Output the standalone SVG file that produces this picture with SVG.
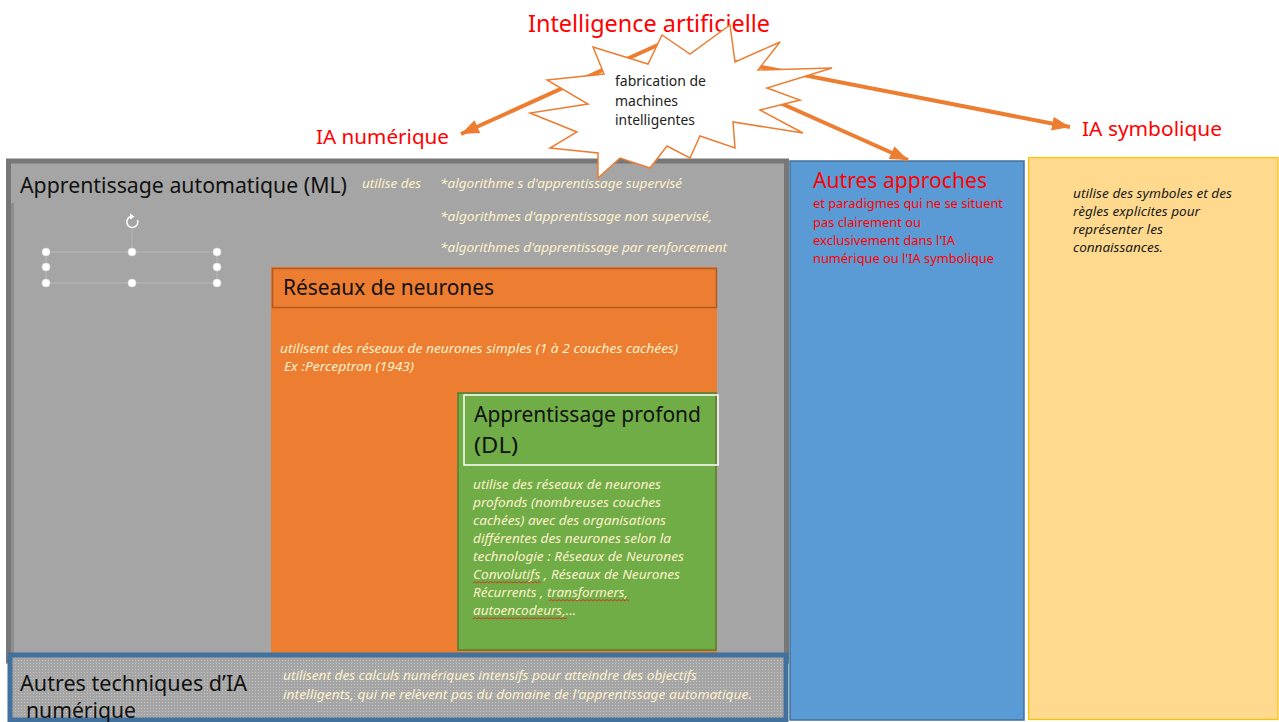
<svg xmlns="http://www.w3.org/2000/svg" width="1279" height="722" viewBox="0 0 1279 722">
  <style>
    text { font-family: "Noto Sans", "Open Sans", "Liberation Sans", sans-serif; }
    .red { fill: #ff0000; }
    .title { fill: #111111; font-size: 21px; }
    .note { fill: #fff2cc; font-size: 12.5px; font-style: italic; }
    .dark-note { fill: #1a1a1a; font-size: 12.5px; font-style: italic; }
    .red-note { fill: #ff0000; font-size: 12.5px; }
    .arrow { stroke: #ed7d31; stroke-width: 4; fill: none; marker-end: url(#head); }
    .handle { fill: #ffffff; stroke: #d9d9d9; stroke-width: 0.6; }
    .squiggle { fill: none; stroke: #e02020; stroke-width: 0.8; }
  </style>
  <defs>
    <marker id="head" markerUnits="userSpaceOnUse" markerWidth="20" markerHeight="16" refX="18" refY="8" orient="auto">
      <path d="M0,1 L18,8 L0,15 Z" fill="#ed7d31"/>
    </marker>
    <pattern id="dots" width="3" height="3" patternUnits="userSpaceOnUse">
      <rect width="3" height="3" fill="#a5a5a5"/>
      <rect width="1" height="1" fill="#c4c4c4"/>
    </pattern>
  </defs>

  <rect width="1279" height="722" fill="#ffffff"/>

  <!-- Top-level title and the two branches -->
  <g id="title-ia">
    <text x="528" y="32" class="red" font-size="24" textLength="242" lengthAdjust="spacingAndGlyphs">Intelligence artificielle</text>
  </g>
  <g id="label-ia-numerique">
    <text x="316" y="144" class="red" font-size="20" textLength="133" lengthAdjust="spacingAndGlyphs">IA numérique</text>
  </g>
  <g id="label-ia-symbolique">
    <text x="1082" y="136" class="red" font-size="20" textLength="140" lengthAdjust="spacingAndGlyphs">IA symbolique</text>
  </g>

  <!-- Machine learning container -->
  <g id="ml">
    <rect x="8.5" y="161" width="778" height="500" fill="#a5a5a5" stroke="#777777" stroke-width="5"/>
    <rect x="11" y="203" width="3" height="455" fill="#8e8e8e"/>
    <text x="20" y="193" class="title" font-size="22" textLength="327" lengthAdjust="spacingAndGlyphs">Apprentissage automatique (ML)</text>
    <text x="362" y="188" class="note" font-size="12" textLength="59" lengthAdjust="spacingAndGlyphs">utilise des</text>
    <text x="440" y="188" class="note" font-size="12" textLength="242" lengthAdjust="spacingAndGlyphs">*algorithme s d'apprentissage supervisé</text>
    <text x="440" y="221" class="note" font-size="12" textLength="272" lengthAdjust="spacingAndGlyphs">*algorithmes d'apprentissage non supervisé,</text>
    <text x="440" y="252" class="note" font-size="12" textLength="287" lengthAdjust="spacingAndGlyphs">*algorithmes d'apprentissage par renforcement</text>
    <!-- empty selected text frame with its handles -->
    <rect x="46" y="252" width="171" height="31" fill="none" stroke="#bdbdbd" stroke-width="0.8"/>
    <line x1="132" y1="230" x2="132" y2="252" stroke="#bdbdbd" stroke-width="0.8"/>
    <path d="M137.5,220 A5.5,5.5 0 1 1 131,216.6" fill="none" stroke="#ffffff" stroke-width="1.5"/>
    <path d="M130,213.5 L134.5,216.8 L130,219.6 Z" fill="#ffffff"/>
    <circle cx="46" cy="252" r="4" class="handle"/>
    <circle cx="132" cy="252" r="4" class="handle"/>
    <circle cx="217" cy="252" r="4" class="handle"/>
    <circle cx="46" cy="267" r="4" class="handle"/>
    <circle cx="217" cy="267" r="4" class="handle"/>
    <circle cx="46" cy="283" r="4" class="handle"/>
    <circle cx="132" cy="283" r="4" class="handle"/>
    <circle cx="217" cy="283" r="4" class="handle"/>
  </g>

  <!-- Neural networks -->
  <g id="reseaux-neurones">
    <rect x="271" y="267" width="446" height="390" fill="#ed7d31"/>
    <rect x="272.5" y="268.5" width="444" height="39" fill="#ed7d31" stroke="#ae5a21" stroke-width="1.5"/>
    <text x="283" y="295" class="title" textLength="211" lengthAdjust="spacingAndGlyphs">Réseaux de neurones</text>
    <text x="280" y="353" class="note" textLength="398" lengthAdjust="spacingAndGlyphs">utilisent des réseaux de neurones  simples (1 à 2 couches cachées)</text>
    <text x="284" y="371" class="note" textLength="130" lengthAdjust="spacingAndGlyphs">Ex :Perceptron (1943)</text>
  </g>

  <!-- Deep learning -->
  <g id="apprentissage-profond">
    <rect x="458" y="393" width="258" height="257" fill="#70ad47" stroke="#507e32" stroke-width="1.5"/>
    <rect x="464" y="395" width="254" height="70" fill="none" stroke="#ffffff" stroke-width="1.5"/>
    <text x="474" y="422" class="title" textLength="227" lengthAdjust="spacingAndGlyphs">Apprentissage profond</text>
    <text x="474" y="453" class="title" textLength="44" lengthAdjust="spacingAndGlyphs">(DL)</text>
    <text x="473" y="489" class="note" textLength="188" lengthAdjust="spacingAndGlyphs">utilise des réseaux de neurones</text>
    <text x="473" y="507" class="note" textLength="188" lengthAdjust="spacingAndGlyphs">profonds (nombreuses couches</text>
    <text x="473" y="525" class="note" textLength="193" lengthAdjust="spacingAndGlyphs">cachées) avec des organisations</text>
    <text x="473" y="543" class="note" textLength="198" lengthAdjust="spacingAndGlyphs">différentes des neurones selon la</text>
    <text x="473" y="561" class="note" textLength="211" lengthAdjust="spacingAndGlyphs">technologie : Réseaux de Neurones</text>
    <text x="473" y="579" class="note" textLength="207" lengthAdjust="spacingAndGlyphs">Convolutifs , Réseaux de Neurones</text>
    <text x="473" y="597" class="note" textLength="155" lengthAdjust="spacingAndGlyphs">Récurrents , transformers,</text>
    <text x="473" y="615" class="note" textLength="103" lengthAdjust="spacingAndGlyphs">autoencodeurs,…</text>
    <!-- spell-check underlines -->
    <path class="squiggle" d="M473,583 l2,-1.5 l2,1.5 l2,-1.5 l2,1.5 l2,-1.5 l2,1.5 l2,-1.5 l2,1.5 l2,-1.5 l2,1.5 l2,-1.5 l2,1.5 l2,-1.5 l2,1.5 l2,-1.5 l2,1.5 l2,-1.5 l2,1.5 l2,-1.5 l2,1.5 l2,-1.5 l2,1.5 l2,-1.5 l2,1.5 l2,-1.5 l2,1.5 l2,-1.5 l2,1.5 l2,-1.5 l2,1.5 l2,-1.5 l2,1.5 l2,-1.5 l2,1.5"/>
    <path class="squiggle" d="M549,601 l2,-1.5 l2,1.5 l2,-1.5 l2,1.5 l2,-1.5 l2,1.5 l2,-1.5 l2,1.5 l2,-1.5 l2,1.5 l2,-1.5 l2,1.5 l2,-1.5 l2,1.5 l2,-1.5 l2,1.5 l2,-1.5 l2,1.5 l2,-1.5 l2,1.5 l2,-1.5 l2,1.5 l2,-1.5 l2,1.5 l2,-1.5 l2,1.5 l2,-1.5 l2,1.5 l2,-1.5 l2,1.5 l2,-1.5 l2,1.5 l2,-1.5 l2,1.5 l2,-1.5 l2,1.5 l2,-1.5 l2,1.5 l2,-1.5 l2,1.5"/>
    <path class="squiggle" d="M473,619 l2,-1.5 l2,1.5 l2,-1.5 l2,1.5 l2,-1.5 l2,1.5 l2,-1.5 l2,1.5 l2,-1.5 l2,1.5 l2,-1.5 l2,1.5 l2,-1.5 l2,1.5 l2,-1.5 l2,1.5 l2,-1.5 l2,1.5 l2,-1.5 l2,1.5 l2,-1.5 l2,1.5 l2,-1.5 l2,1.5 l2,-1.5 l2,1.5 l2,-1.5 l2,1.5 l2,-1.5 l2,1.5 l2,-1.5 l2,1.5 l2,-1.5 l2,1.5 l2,-1.5 l2,1.5 l2,-1.5 l2,1.5 l2,-1.5 l2,1.5 l2,-1.5 l2,1.5 l2,-1.5 l2,1.5 l2,-1.5 l2,1.5 l2,-1.5"/>
  </g>

  <!-- Other numeric AI techniques -->
  <g id="autres-techniques">
    <rect x="10" y="655" width="776" height="65" fill="url(#dots)" stroke="#41719c" stroke-width="5"/>
    <text x="20" y="691" class="title" textLength="227" lengthAdjust="spacingAndGlyphs">Autres techniques d’IA</text>
    <text x="26" y="718" class="title" textLength="110" lengthAdjust="spacingAndGlyphs">numérique</text>
    <text x="283" y="680" class="note" textLength="414" lengthAdjust="spacingAndGlyphs">utilisent des calculs numériques intensifs pour atteindre des objectifs</text>
    <text x="283" y="699" class="note" textLength="469" lengthAdjust="spacingAndGlyphs">intelligents, qui  ne relèvent pas  du domaine de l'apprentissage automatique.</text>
  </g>

  <!-- Other approaches -->
  <g id="autres-approches">
    <rect x="790" y="161" width="234" height="559" fill="#5b9bd5" stroke="#41719c" stroke-width="1.5"/>
    <text x="813" y="188" class="red" font-size="21" textLength="174" lengthAdjust="spacingAndGlyphs">Autres approches</text>
    <text x="813" y="208" class="red-note" textLength="190" lengthAdjust="spacingAndGlyphs">et paradigmes qui ne se situent</text>
    <text x="813" y="227" class="red-note" textLength="108" lengthAdjust="spacingAndGlyphs">pas clairement ou</text>
    <text x="813" y="245" class="red-note" textLength="142" lengthAdjust="spacingAndGlyphs">exclusivement dans l'IA</text>
    <text x="813" y="263" class="red-note" textLength="181" lengthAdjust="spacingAndGlyphs">numérique ou l'IA symbolique</text>
  </g>

  <!-- Symbolic AI -->
  <g id="ia-symbolique">
    <rect x="1028.5" y="157.5" width="249.5" height="562" fill="#fed98e" stroke="#ffc000" stroke-width="1.2"/>
    <text x="1073" y="198" class="dark-note" textLength="159" lengthAdjust="spacingAndGlyphs">utilise des symboles et des</text>
    <text x="1073" y="216" class="dark-note" textLength="127" lengthAdjust="spacingAndGlyphs">règles explicites pour</text>
    <text x="1073" y="234" class="dark-note" textLength="90" lengthAdjust="spacingAndGlyphs">représenter les</text>
    <text x="1073" y="252" class="dark-note" textLength="90" lengthAdjust="spacingAndGlyphs">connaissances.</text>
  </g>

  <!-- Connectors from the central burst -->
  <g id="connectors">
    <line x1="660" y1="44" x2="461" y2="134" class="arrow"/>
    <line x1="700" y1="55" x2="1070" y2="127" class="arrow"/>
    <line x1="740" y1="85" x2="908" y2="160" class="arrow"/>
  </g>

  <!-- Central burst -->
  <g id="fabrication">
    <polygon points="593,47 648,64 662,35 690,54 730,25 735,62 780,42 758,70 832,68 767,88 800,100 760,110 803,133 733,122 735,148 700,136 690,158 667,146 650,168 620,158 598,178 598,153 550,148 577,132 530,113 588,104 547,80 604,74" fill="#ffffff" stroke="#ed7d31" stroke-width="1.5" stroke-linejoin="miter"/>
    <text x="615" y="86" fill="#222222" font-size="13.5" textLength="91" lengthAdjust="spacingAndGlyphs">fabrication de</text>
    <text x="615" y="106" fill="#222222" font-size="13.5" textLength="63" lengthAdjust="spacingAndGlyphs">machines</text>
    <text x="615" y="125" fill="#222222" font-size="13.5" textLength="80" lengthAdjust="spacingAndGlyphs">intelligentes</text>
  </g>
</svg>
